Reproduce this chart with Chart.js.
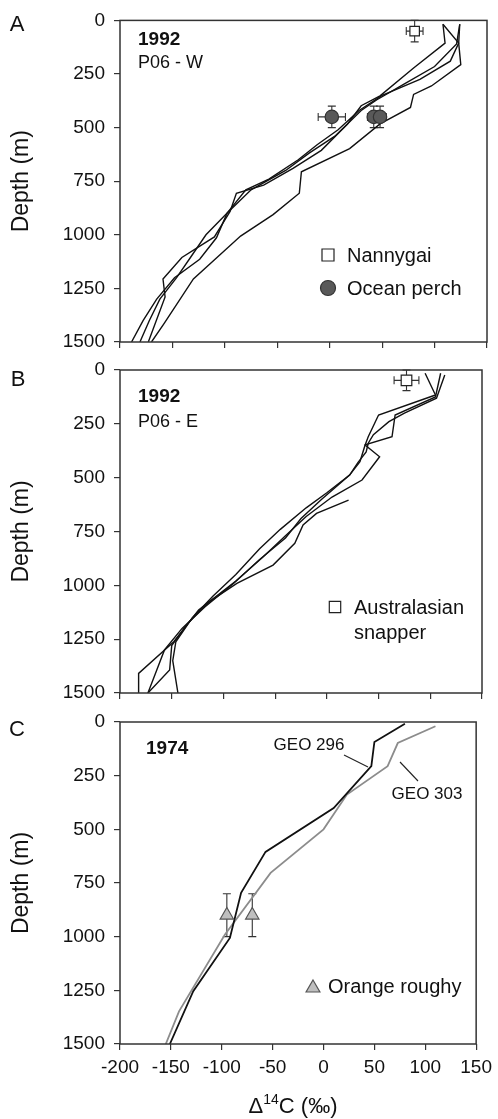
<!DOCTYPE html>
<html>
<head>
<meta charset="utf-8">
<script src="https://cdn.jsdelivr.net/npm/chart.js"></script>
<style>
  body { margin: 0; background: #fff; }
  #wrap { position: relative; width: 498px; height: 1119px; }
  canvas { position: absolute; left: 0; top: 0; }
</style>
</head>
<body>
<div id="wrap">
  <canvas id="panelA" width="498" height="1119"></canvas>
  <canvas id="panelB" width="498" height="1119"></canvas>
  <canvas id="panelC" width="498" height="1119"></canvas>
</div>
<script>
// axes
const xMin = -200, xMax = 150, xStep = 50;
const depthMax = 1500, depthStep = 250;

// Panel A - 1992 P06 - W, seawater profiles (D14C, depth)
const aProfile1X = [124, 123, 125, 97, 80, 77, 48, 19, -27, -29, -54, -85, -130, -158, -170];
const aProfile1Depth = [18, 106, 206, 306, 345, 406, 483, 598, 706, 806, 906, 1006, 1206, 1414, 1500];
const aProfile2X = [108, 110, 80, 48, 30, 17, -8, -35, -63, -89, -95, -110, -141, -159, -157, -173];
const aProfile2Depth = [18, 106, 222, 352, 398, 483, 606, 690, 768, 806, 891, 1010, 1106, 1206, 1290, 1500];
const aProfile3X = [108, 123, 115, 86, 50, 28, 8, -12, -30, -58, -80, -98, -108, -124, -148, -165, -178, -189];
const aProfile3Depth = [18, 106, 190, 275, 350, 420, 510, 580, 650, 740, 790, 900, 1014, 1114, 1200, 1300, 1400, 1500];
const aProfile4X = [124, 121, 100, 70, 45, 30, 5, -20, -42, -75, -98, -118, -132, -146, -162, -172, -181];
const aProfile4Depth = [18, 110, 215, 300, 370, 420, 540, 620, 700, 790, 900, 1000, 1100, 1200, 1300, 1400, 1500];

const nannygaiX = [81];
const nannygaiDepth = [50];
const nannygaiErrX = [8];
const nannygaiErrDepth = [50];

const perchX = [2, 42, 48];
const perchDepth = [450, 450, 450];
const perchErrX = [13, 6, 6];
const perchErrDepth = [50, 50, 50];

// Panel B - 1992 P06 - E
const bProfile1X = [95, 105, 50, 40, 37, 51, 34, 5, -20, -40, -62, -88, -124, -148, -182, -182];
const bProfile1Depth = [15, 116, 209, 310, 348, 403, 511, 590, 680, 770, 870, 980, 1115, 1262, 1409, 1500];
const bProfile2X = [110, 105, 66, 63, 37, 32, 22, 0, -20, -45, -65, -88, -110, -130, -146, -149, -144];
const bProfile2Depth = [15, 125, 209, 310, 348, 426, 488, 570, 640, 740, 830, 950, 1050, 1150, 1262, 1350, 1500];
const bProfile3X = [114, 106, 75, 60, 45, 40, 38, 30, 22, -5, -25, -40, -65, -90, -118, -140, -157, -165, -173];
const bProfile3Depth = [23, 131, 200, 240, 300, 340, 380, 430, 488, 600, 690, 780, 880, 990, 1100, 1200, 1300, 1400, 1500];
const bProfile4X = [21, -10, -23, -31, -52, -87, -115, -135, -150, -152, -173];
const bProfile4Depth = [604, 666, 720, 805, 906, 991, 1080, 1180, 1280, 1393, 1500];

const snapperX = [77];
const snapperDepth = [48];
const snapperErrX = [12];
const snapperErrDepth = [48];

// Panel C - 1974
const geo296X = [80, 50, 47, 10, -57, -81, -92, -128, -151];
const geo296Depth = [8, 93, 206, 401, 605, 796, 1006, 1254, 1500];
const geo303X = [110, 73, 63, 23, 0, -52, -97, -142, -155];
const geo303Depth = [20, 98, 206, 338, 500, 703, 991, 1348, 1500];

const roughyX = [-95, -70];
const roughyDepth = [900, 900];
const roughyErrDepth = [100, 100];

const FONT = '"Liberation Sans", Arial, sans-serif';
Chart.defaults.font.family = FONT;
Chart.defaults.color = '#111';

function pts(xs, ds) {
    return xs.map((x, i) => ({ x: x, y: ds[i] }));
}

function profile(xs, ds, color, width) {
    return {
        data: pts(xs, ds),
        showLine: true,
        borderColor: color || '#111',
        borderWidth: width || 1.4,
        pointRadius: 0,
        fill: false,
        tension: 0
    };
}

function markers(xs, ds, style, radius, fill, stroke, errX, errY) {
    return {
        data: pts(xs, ds),
        showLine: false,
        pointStyle: style,
        pointRadius: radius,
        backgroundColor: fill,
        borderColor: stroke,
        pointBorderWidth: 1.2,
        errX: errX,
        errY: errY
    };
}

// annotations for each panel (text inside the plots, legends, labels)
const notes = {
    panelA: {
        texts: [
            { t: 'A', x: 17, y: 25, f: '22px', a: 'center' },
            { t: '1992', x: 138, y: 40, f: 'bold 19px' },
            { t: 'P06 - W', x: 138, y: 63, f: '18px' },
            { t: 'Nannygai', x: 347, y: 256, f: '20px' },
            { t: 'Ocean perch', x: 347, y: 289, f: '20px' }
        ],
        keys: [
            { s: 'rect', x: 328, y: 255, r: 6, fill: '#fff', stroke: '#222' },
            { s: 'circle', x: 328, y: 288, r: 7.5, fill: '#595959', stroke: '#333' }
        ],
        segs: []
    },
    panelB: {
        texts: [
            { t: 'B', x: 18, y: 380, f: '22px', a: 'center' },
            { t: '1992', x: 138, y: 397, f: 'bold 19px' },
            { t: 'P06 - E', x: 138, y: 422, f: '18px' },
            { t: 'Australasian', x: 354, y: 608, f: '20px' },
            { t: 'snapper', x: 354, y: 633, f: '20px' }
        ],
        keys: [
            { s: 'rect', x: 335, y: 607, r: 5.7, fill: '#fff', stroke: '#222' }
        ],
        segs: []
    },
    panelC: {
        texts: [
            { t: 'C', x: 17, y: 730, f: '22px', a: 'center' },
            { t: '1974', x: 146, y: 749, f: 'bold 19px' },
            { t: 'GEO 296', x: 309, y: 745, f: '17px', a: 'center' },
            { t: 'GEO 303', x: 427, y: 794, f: '17px', a: 'center' },
            { t: 'Orange roughy', x: 328, y: 987, f: '20px' }
        ],
        keys: [
            { s: 'triangle', x: 313, y: 988, r: 8, fill: '#bfbfbf', stroke: '#555' }
        ],
        segs: [[344, 755, 368, 767], [400, 762, 418, 781]],
        xTitle: { x: 293, y: 1113 }
    }
};

function keyShape(ctx, k) {
    ctx.beginPath();
    if (k.s === 'rect') {
        ctx.rect(k.x - k.r, k.y - k.r, 2 * k.r, 2 * k.r);
    } else if (k.s === 'circle') {
        ctx.arc(k.x, k.y, k.r, 0, Math.PI * 2);
    } else {
        ctx.moveTo(k.x, k.y - k.r);
        ctx.lineTo(k.x + k.r * 0.866, k.y + k.r / 2);
        ctx.lineTo(k.x - k.r * 0.866, k.y + k.r / 2);
        ctx.closePath();
    }
    ctx.fillStyle = k.fill;
    ctx.fill();
    ctx.lineWidth = 1.2;
    ctx.strokeStyle = k.stroke;
    ctx.stroke();
}

const errorBars = {
    id: 'errorBars',
    beforeDatasetsDraw(chart) {
        const ctx = chart.ctx;
        const xs = chart.scales.x, ys = chart.scales.y;
        chart.data.datasets.forEach(ds => {
            if (!ds.errX && !ds.errY) return;
            ctx.save();
            ctx.strokeStyle = '#333';
            ctx.lineWidth = 1.1;
            ds.data.forEach((p, i) => {
                const px = xs.getPixelForValue(p.x);
                const py = ys.getPixelForValue(p.y);
                ctx.beginPath();
                if (ds.errX) {
                    const x1 = xs.getPixelForValue(p.x - ds.errX[i]);
                    const x2 = xs.getPixelForValue(p.x + ds.errX[i]);
                    ctx.moveTo(x1, py); ctx.lineTo(x2, py);
                    ctx.moveTo(x1, py - 4); ctx.lineTo(x1, py + 4);
                    ctx.moveTo(x2, py - 4); ctx.lineTo(x2, py + 4);
                }
                if (ds.errY) {
                    const y1 = ys.getPixelForValue(p.y - ds.errY[i]);
                    const y2 = ys.getPixelForValue(p.y + ds.errY[i]);
                    ctx.moveTo(px, y1); ctx.lineTo(px, y2);
                    ctx.moveTo(px - 4, y1); ctx.lineTo(px + 4, y1);
                    ctx.moveTo(px - 4, y2); ctx.lineTo(px + 4, y2);
                }
                ctx.stroke();
            });
            ctx.restore();
        });
    }
};

const panelNotes = {
    id: 'panelNotes',
    afterDraw(chart) {
        const ctx = chart.ctx;
        const area = chart.chartArea;
        const n = notes[chart.canvas.id];
        ctx.save();
        // frame around the plot
        ctx.strokeStyle = '#333';
        ctx.lineWidth = 1.5;
        ctx.strokeRect(area.left, area.top, area.right - area.left, area.bottom - area.top);

        ctx.fillStyle = '#111';
        ctx.textBaseline = 'middle';
        n.texts.forEach(t => {
            ctx.font = t.f + ' ' + FONT;
            ctx.textAlign = t.a || 'left';
            ctx.fillText(t.t, t.x, t.y);
        });
        n.keys.forEach(k => keyShape(ctx, k));

        ctx.strokeStyle = '#222';
        ctx.lineWidth = 1.1;
        n.segs.forEach(s => {
            ctx.beginPath();
            ctx.moveTo(s[0], s[1]);
            ctx.lineTo(s[2], s[3]);
            ctx.stroke();
        });

        if (n.xTitle) {
            // Δ14C (‰) with superscript 14
            const big = '22px ' + FONT, small = '14px ' + FONT;
            ctx.textBaseline = 'alphabetic';
            ctx.textAlign = 'left';
            ctx.font = big;
            const w1 = ctx.measureText('\u0394').width;
            const w3 = ctx.measureText('C (\u2030)').width;
            ctx.font = small;
            const w2 = ctx.measureText('14').width;
            let x = n.xTitle.x - (w1 + w2 + w3) / 2;
            const y = n.xTitle.y;
            ctx.fillStyle = '#111';
            ctx.font = big;
            ctx.fillText('\u0394', x, y);
            x += w1;
            ctx.font = small;
            ctx.fillText('14', x, y - 9);
            x += w2;
            ctx.font = big;
            ctx.fillText('C (\u2030)', x, y);
        }
        ctx.restore();
    }
};

function panel(id, datasets, top, bottom, right, xLabels) {
    const xHeight = xLabels ? 75 : 20;
    const gridStyle = { drawOnChartArea: false, drawTicks: true, tickLength: 6, color: '#333', lineWidth: 1.2 };
    return new Chart(document.getElementById(id), {
        type: 'scatter',
        data: { datasets: datasets },
        options: {
            responsive: false,
            animation: false,
            devicePixelRatio: 1,
            layout: { padding: { left: 0, top: top, right: 498 - right, bottom: 1119 - bottom - xHeight } },
            plugins: { legend: { display: false }, tooltip: { enabled: false } },
            scales: {
                x: {
                    type: 'linear', min: xMin, max: xMax,
                    ticks: { display: xLabels, stepSize: xStep, padding: 6, font: { size: 19 }, color: '#111',
                             callback: v => String(v) },
                    grid: gridStyle,
                    border: { display: false },
                    afterFit: s => { s.height = xHeight; }
                },
                y: {
                    type: 'linear', reverse: true, min: 0, max: depthMax,
                    ticks: { stepSize: depthStep, padding: 9, font: { size: 19 }, color: '#111',
                             callback: v => String(v) },
                    grid: gridStyle,
                    border: { display: false },
                    title: { display: true, text: 'Depth (m)', font: { size: 23 }, color: '#111', padding: { top: 8, bottom: 0 } },
                    afterFit: s => { s.width = 120; }
                }
            }
        },
        plugins: [errorBars, panelNotes]
    });
}

// first datasets are drawn on top, so markers come first
panel('panelA', [
    markers(nannygaiX, nannygaiDepth, 'rect', 6.7, '#fff', '#222', nannygaiErrX, nannygaiErrDepth),
    markers(perchX, perchDepth, 'circle', 6.7, '#595959', '#333', perchErrX, perchErrDepth),
    profile(aProfile1X, aProfile1Depth),
    profile(aProfile2X, aProfile2Depth),
    profile(aProfile3X, aProfile3Depth),
    profile(aProfile4X, aProfile4Depth)
], 17, 342, 487, false);

panel('panelB', [
    markers(snapperX, snapperDepth, 'rect', 7.5, '#fff', '#222', snapperErrX, snapperErrDepth),
    profile(bProfile1X, bProfile1Depth),
    profile(bProfile2X, bProfile2Depth),
    profile(bProfile3X, bProfile3Depth),
    profile(bProfile4X, bProfile4Depth)
], 370, 693, 482, false);

panel('panelC', [
    markers(roughyX, roughyDepth, 'triangle', 7.7, '#bfbfbf', '#555', null, roughyErrDepth),
    profile(geo296X, geo296Depth, '#111', 1.8),
    profile(geo303X, geo303Depth, '#8c8c8c', 1.8)
], 722, 1044, 481, true);
</script>
</body>
</html>
